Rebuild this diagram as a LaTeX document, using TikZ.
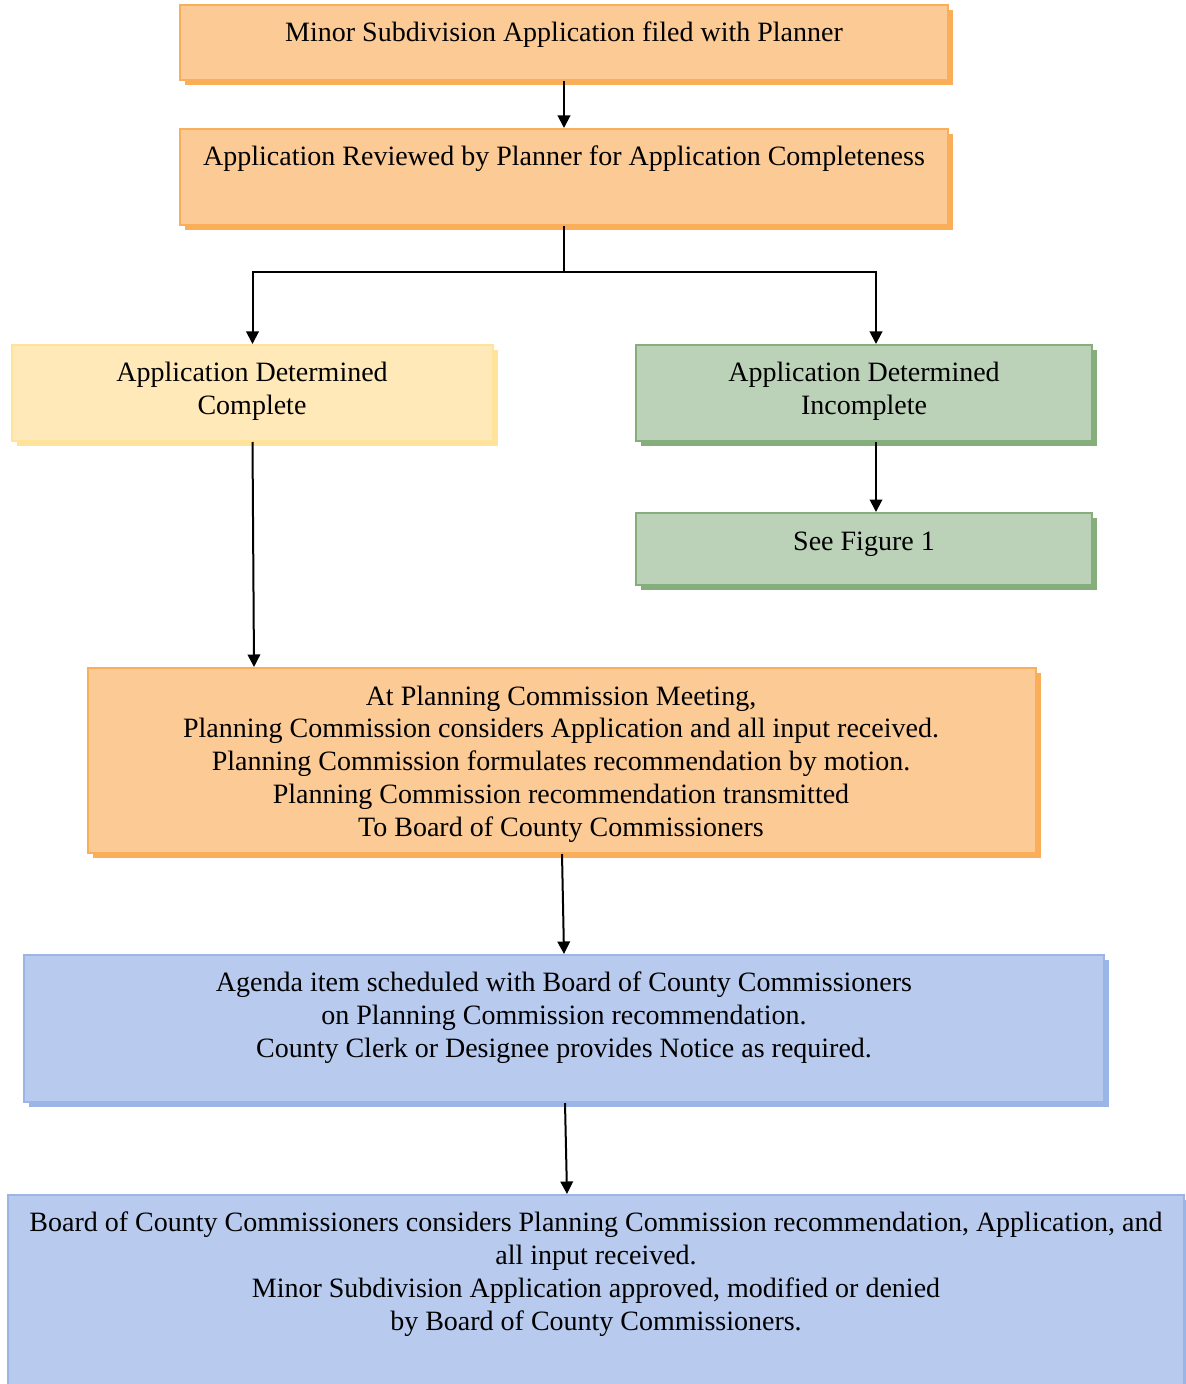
\documentclass[tikz,border=0pt]{standalone}
\usepackage{fontspec}
\setmainfont{Liberation Serif}
\usetikzlibrary{arrows.meta, fit, shadows}

\definecolor{orfill}{HTML}{FBCA95}
\definecolor{orline}{HTML}{FBAE5A}
\definecolor{yefill}{HTML}{FFE9B8}
\definecolor{yeline}{HTML}{FFE39A}
\definecolor{grfill}{HTML}{BBD2B8}
\definecolor{grline}{HTML}{86AE7D}
\definecolor{blfill}{HTML}{B8CAEE}
\definecolor{blline}{HTML}{9AB5E6}

\begin{document}
\begin{tikzpicture}[x=0.4pt, y=-0.4pt, line width=0.8pt,
  box/.style={inner sep=0pt, line width=0.8pt},
  orbox/.style={box, fill=orfill, draw=orline, drop shadow={shadow xshift=2pt, shadow yshift=-2pt, fill=orline, opacity=1}},
  yebox/.style={box, fill=yefill, draw=yeline, drop shadow={shadow xshift=2pt, shadow yshift=-2pt, fill=yeline, opacity=1}},
  grbox/.style={box, fill=grfill, draw=grline, drop shadow={shadow xshift=2pt, shadow yshift=-2pt, fill=grline, opacity=1}},
  blbox/.style={box, fill=blfill, draw=blline, drop shadow={shadow xshift=2pt, shadow yshift=-2pt, fill=blline, opacity=1}},
  txt/.style={font=\fontsize{11.2}{13.1}\selectfont, align=center, anchor=base, inner sep=0pt},
  arr/.style={-{Triangle[length=5pt, width=5pt]}}]
  \useasboundingbox (0,0) rectangle (1185,1384);

  % boxes
  \node[orbox, fit={(180,5) (948,80)}] (filed) {};
  \node[orbox, fit={(180,129) (948,225)}] (review) {};
  \node[yebox, fit={(12,345) (493,441)}] (complete) {};
  \node[grbox, fit={(636,345) (1092,441)}] (incomplete) {};
  \node[grbox, fit={(636,513) (1092,585)}] (fig1) {};
  \node[orbox, fit={(88,668) (1036,853)}] (meeting) {};
  \node[blbox, fit={(24,955) (1104,1102)}] (agenda) {};
  \node[blbox, fit={(8,1195) (1184,1395)}] (board) {};

  % texts (anchored at the baseline of the last line)
  \node[txt] (tfiled) at (564,42) {Minor Subdivision Application filed with Planner};
  \node[txt] (treview) at (564,166) {Application Reviewed by Planner for Application Completeness};
  \node[txt] (tcomplete) at (252,414) {Application Determined\\Complete};
  \node[txt] (tincomplete) at (864,414) {Application Determined\\Incomplete};
  \node[txt] (tfig1) at (864,550) {See Figure 1};
  \node[txt] (tmeeting) at (561,836) {At Planning Commission Meeting,\\
    Planning Commission considers Application and all input received.\\
    Planning Commission formulates recommendation by motion.\\
    Planning Commission recommendation transmitted\\
    To Board of County Commissioners};
  \node[txt] (tagenda) at (564,1057) {Agenda item scheduled with Board of County Commissioners\\
    on Planning Commission recommendation.\\
    County Clerk or Designee provides Notice as required.};
  \node[txt] (tboard) at (596,1330) {Board of County Commissioners considers Planning Commission recommendation, Application, and\\
    all input received.\\
    Minor Subdivision Application approved, modified or denied\\
    by Board of County Commissioners.};

  % connectors
  \coordinate (split) at (564,272);
  \draw[arr] (filed.south) -- (review.north);
  \draw (review.south) -- (split);
  \draw[arr] (split) -| (complete.north);
  \draw[arr] (split) -| ([xshift=4.8pt]incomplete.north);
  \draw[arr] ([xshift=4.8pt]incomplete.south) -- ([xshift=4.8pt]fig1.north);
  \draw[arr] (complete.south) -- ([xshift=-123.2pt]meeting.north);
  \draw[arr] (meeting.south) -- (agenda.north);
  \draw[arr] ([xshift=0.4pt]agenda.south) -- ([xshift=-11.6pt]board.north);
\end{tikzpicture}
\end{document}
